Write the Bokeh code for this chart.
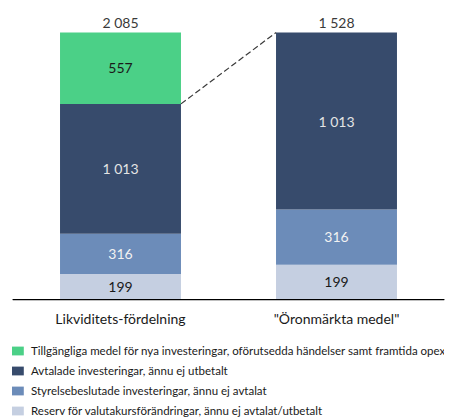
from bokeh.plotting import figure
from bokeh.models import (ColumnDataSource, Range1d, FactorRange, Legend, LegendItem,
                          CategoricalAxis, Span)
from bokeh.core.properties import value
from bokeh.embed import file_html
from bokeh.resources import INLINE

# ---- data ----
categories = ["Likviditets-fördelning", '"Öronmärkta medel"']
series = [
    "Tillgängliga medel för nya investeringar, oförutsedda händelser samt framtida opex",
    "Avtalade investeringar, ännu ej utbetalt",
    "Styrelsebeslutade investeringar, ännu ej avtalat",
    "Reserv för valutakursförändringar, ännu ej avtalat/utbetalt",
]
left_values = [557, 1013, 316, 199]
right_values = [0, 1013, 316, 199]
colors = ["#4BD087", "#374B6C", "#6C8CB9", "#C5CFE1"]
label_colors = ["#1a1a1a", "#E4E4E4", "#F2F2F2", "#1a1a1a"]

FONT = "Lato"
TOP_PAD = 0.12
BOTTOM_EXT = 0.449
BAR_W = 0.56


def fmt(v):
    return f"{v:,}".replace(",", " ")


def stack_source(cat, vals):
    xs, bottoms, tops, cols, mids, texts, tcols, names = [], [], [], [], [], [], [], []
    base = 0
    for i in reversed(range(len(vals))):
        v = vals[i]
        if v <= 0:
            continue
        xs.append(cat)
        bottoms.append(base)
        tops.append(base + v)
        mids.append(base + v / 2)
        cols.append(colors[i])
        texts.append(fmt(v))
        tcols.append(label_colors[i])
        names.append(series[i])
        base += v
    return ColumnDataSource(dict(x=xs, bottom=bottoms, top=tops, color=cols, mid=mids,
                                 text=texts, tcolor=tcols, name=names)), base


left_src, left_total = stack_source(categories[0], left_values)
right_src, right_total = stack_source(categories[1], right_values)

left_range = Range1d(-BOTTOM_EXT * left_total, (1 + TOP_PAD) * left_total)
right_range = Range1d(-BOTTOM_EXT * right_total, (1 + TOP_PAD) * right_total)

p = figure(width=452, height=419, x_range=FactorRange(factors=categories),
           y_range=left_range, output_backend="svg", toolbar_location=None,
           x_axis_location=None, y_axis_location=None,
           min_border_left=12, min_border_right=8, min_border_top=0, min_border_bottom=0)
p.extra_y_ranges = {"right": right_range}
p.outline_line_color = None
p.xgrid.visible = False
p.ygrid.visible = False
p.background_fill_color = "white"
p.border_fill_color = "white"

rl = p.vbar(x="x", bottom="bottom", top="top", width=BAR_W, fill_color="color",
            line_color=None, source=left_src)
rr = p.vbar(x="x", bottom="bottom", top="top", width=BAR_W, fill_color="color",
            line_color=None, source=right_src, y_range_name="right")

for src, rname in ((left_src, "default"), (right_src, "right")):
    p.text(x="x", y="mid", text="text", text_color="tcolor", source=src,
           y_range_name=rname, text_align="center", text_baseline="middle",
           text_font=value(FONT), text_font_size="14px")

totals_left = ColumnDataSource(dict(x=[categories[0]], y=[left_total], t=[fmt(left_total)]))
totals_right = ColumnDataSource(dict(x=[categories[1]], y=[right_total], t=[fmt(right_total)]))
for src, rname in ((totals_left, "default"), (totals_right, "right")):
    p.text(x="x", y="y", text="t", source=src, y_range_name=rname,
           text_align="center", text_baseline="bottom", y_offset=-2,
           text_color="#3a3a3a", text_font=value(FONT), text_font_size="14px")

# dashed connector: top of "Avtalade" in left bar -> top of right bar
connector_y_right = right_total * (left_range.end / right_range.end)
p.line(x=[(categories[0], BAR_W / 2), (categories[1], -BAR_W / 2)],
       y=[right_total, connector_y_right], line_color="#3a3a3a", line_width=1.2,
       line_dash="6 3")

# baseline
p.add_layout(Span(location=0, dimension="width", line_color="black", line_width=1.2))

xaxis = CategoricalAxis(fixed_location=0)
xaxis.axis_line_color = "black"
xaxis.axis_line_width = 1
xaxis.major_tick_line_color = None
xaxis.minor_tick_line_color = None
xaxis.major_label_standoff = 4
xaxis.major_label_text_font = FONT
xaxis.major_label_text_font_size = "14px"
xaxis.major_label_text_color = "#1a1a1a"
p.add_layout(xaxis, "below")

# legend (top to bottom in series order)
items = []
for i, name in enumerate(series):
    if i == 0:
        idx = list(left_src.data["name"]).index(name)
        items.append(LegendItem(label=name, renderers=[rl], index=idx))
    else:
        idx = list(right_src.data["name"]).index(name)
        items.append(LegendItem(label=name, renderers=[rr], index=idx))

legend = Legend(items=items, location=(-4, 1), orientation="vertical")
legend.margin = 0
legend.padding = 0
legend.border_line_color = None
legend.background_fill_alpha = 0
legend.label_text_font = FONT
legend.label_text_font_size = "11.5px"
legend.label_text_color = "#1a1a1a"
legend.glyph_width = 17
legend.glyph_height = 11
legend.label_height = 15
legend.label_standoff = 6
legend.spacing = 5
p.add_layout(legend, "center")

open("out.html", "w").write(file_html(p, INLINE))
